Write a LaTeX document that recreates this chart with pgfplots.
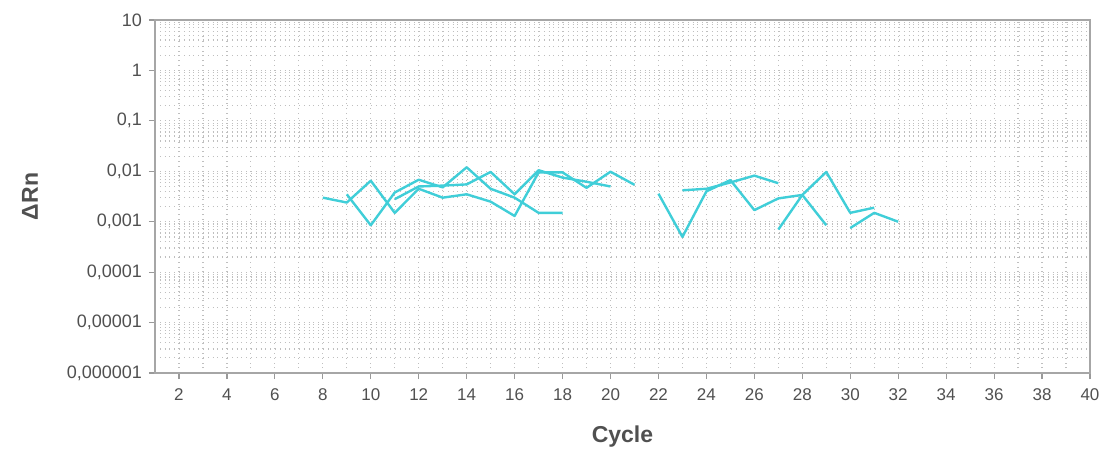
\documentclass[border=0pt]{standalone}
\usepackage{pgfplots}
\pgfplotsset{compat=1.18}
\usepackage{fontspec}
\setmainfont{Liberation Sans}
\definecolor{cy}{RGB}{64,206,216}
\definecolor{tk}{RGB}{80,80,80}
\tikzset{cyl/.style={color=cy, line width=1.2pt, solid, mark=none, line join=round}}
\begin{document}
\begin{tikzpicture}
\path[use as bounding box] (-77.5pt,-39.5pt) rectangle (475pt,186.5pt);
\begin{axis}[
  at={(0,0)}, anchor=south west,
  scale only axis, width=467.5pt, height=176.5pt,
  xmin=1, xmax=40, ymode=log, ymin=1e-6, ymax=10,
  xtick={2,4,...,40}, minor x tick num=1,
  ytick={1e-6,1e-5,1e-4,1e-3,1e-2,1e-1,1,10},
  yticklabels={{0,000001},{0,00001},{0,0001},{0,001},{0,01},{0,1},{1},{10}},
  minor ytick={2e-6,3e-6,4e-6,5e-6,6e-6,7e-6,8e-6,9e-6,
    2e-5,3e-5,4e-5,5e-5,6e-5,7e-5,8e-5,9e-5,
    2e-4,3e-4,4e-4,5e-4,6e-4,7e-4,8e-4,9e-4,
    2e-3,3e-3,4e-3,5e-3,6e-3,7e-3,8e-3,9e-3,
    2e-2,3e-2,4e-2,5e-2,6e-2,7e-2,8e-2,9e-2,
    2e-1,3e-1,4e-1,5e-1,6e-1,7e-1,8e-1,9e-1,
    2,3,4,5,6,7,8,9},
  /pgf/number format/assume math mode=true,
  tick align=outside, major tick length=3pt, minor tick length=0pt,
  xtick pos=bottom, ytick pos=left,
  tick style={gray!80, line width=0.6pt},
  grid=both,
  major grid style={gray!50, dotted, line width=0.6pt},
  minor grid style={gray!50, dotted, line width=0.6pt},
  axis line style={gray!70, line width=0.8pt},
  x tick label style={font=\fontsize{8.5}{9}\selectfont, text=tk, yshift=-1.5pt},
  y tick label style={font=\fontsize{9}{10}\selectfont, text=tk},
  xlabel={Cycle}, ylabel={ΔRn},
  xlabel style={at={(axis description cs:0.5,0)}, anchor=center, yshift=-32pt, font=\fontsize{11.5}{12}\selectfont\bfseries, text=tk},
  ylabel style={at={(axis description cs:-0.1337,0.5)}, anchor=center, font=\fontsize{11.5}{12}\selectfont\bfseries, text=tk},
]
\addplot[cyl] coordinates {(8,0.003) (9,0.0024) (10,0.0065) (11,0.0015) (12,0.0045) (13,0.003) (14,0.0035) (15,0.0025) (16,0.0013) (17,0.0095) (18,0.0095) (19,0.0047) (20,0.0098) (21,0.0054)};
\addplot[cyl] coordinates {(9,0.0035) (10,0.00085) (11,0.0038) (12,0.0068) (13,0.0048) (14,0.012) (15,0.0045) (16,0.003) (17,0.0015) (18,0.0015)};
\addplot[cyl] coordinates {(11,0.0028) (12,0.005) (13,0.0052) (14,0.0055) (15,0.0097) (16,0.0035) (17,0.0105) (18,0.0075) (19,0.0062) (20,0.005)};
\addplot[cyl] coordinates {(22,0.0036) (23,0.0005) (24,0.004) (25,0.0067) (26,0.0017) (27,0.0029) (28,0.0034) (29,0.0097) (30,0.0015) (31,0.0019)};
\addplot[cyl] coordinates {(23,0.0042) (24,0.0045) (25,0.006) (26,0.0082) (27,0.0058)};
\addplot[cyl] coordinates {(27,0.0007) (28,0.0034) (29,0.00085)};
\addplot[cyl] coordinates {(30,0.00075) (31,0.0015) (32,0.001)};
\end{axis}
\end{tikzpicture}
\end{document}
